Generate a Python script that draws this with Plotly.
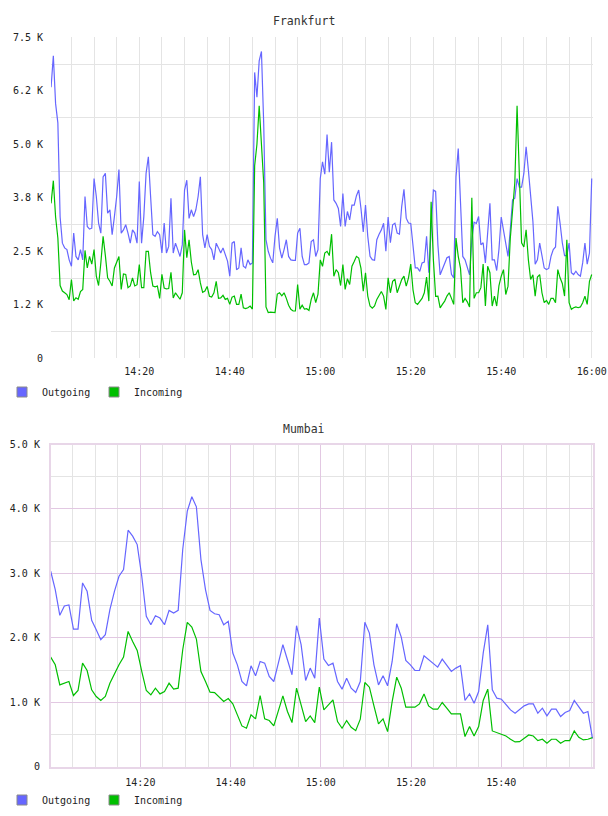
import pandas as pd
import plotly.graph_objects as go

# ---------------- data ----------------
DAY = "2024-01-01 "

# Frankfurt: samples every 30 s from 14:00:30 to 16:00:00
FRA_OUT = [
    6333, 7069, 5950, 5500, 3300, 2690, 2580, 2540, 2300, 2150,
    2925, 2380, 2300, 2540, 2300, 3780, 3080, 3020, 3040, 4200,
    3780, 3160, 2925, 4240, 4320, 3390, 3470, 2890, 3310, 3780,
    4410, 2925, 3000, 3120, 2925, 2690, 3000, 2925, 2690, 4130,
    2690, 3310, 4320, 4710, 3780, 2890, 2850, 2960, 2890, 2460,
    3160, 2460, 2615, 3740, 2460, 2690, 2540, 2380, 2650, 3930,
    4160, 3270, 3470, 3310, 3470, 3780, 4240, 2890, 2580, 2890,
    2615, 2540, 2300, 2690, 2580, 2460, 2580, 2420, 2270, 1920,
    2690, 2730, 2070, 2110, 2580, 2150, 2110, 2300, 2190, 2230,
    6680, 6100, 6950, 7170, 5480, 2770, 2500, 2340, 2230, 2850,
    3270, 2580, 2340, 2540, 2770, 2380, 2300, 2290, 2290, 2925,
    3040, 2380, 2190, 2190, 2230, 2730, 2770, 2380, 2540, 4200,
    4590, 4300, 5230, 4350, 5050, 3700, 3620, 3500, 3080, 3850,
    3080, 3430, 3235, 3580, 3580, 3800, 3930, 3500, 2950, 3580,
    2850, 2383, 2305, 2290, 2770, 2900, 3000, 3157, 2500, 3300,
    2700, 3120, 3157, 2925, 2900, 3545, 3950, 3274, 3160, 3150,
    2650, 2112, 2112, 2030, 2228, 2250, 2848, 2000, 3000, 3932,
    3900, 2650, 1950, 2100, 2228, 2350, 2380, 1960, 1880, 4240,
    4900, 3500, 2380, 2300, 2100, 1950, 2770, 3180, 3150, 3312,
    2654, 2700, 2230, 2900, 3622, 2300, 2300, 2050, 2550, 3300,
    3000, 2615, 2380, 3000, 3700, 3740, 4200, 4000, 4000, 4319,
    4939, 4397, 3855, 3200, 2200, 2300, 2690, 2400, 2110, 2073,
    2100, 2383, 2540, 2600, 3550, 3157, 2700, 2400, 2400, 2693,
    2000, 1957, 2034, 1957, 1918, 2228, 2690, 2200, 2460, 4200,
]
FRA_IN = [
    3620, 4150, 3300, 2810, 1700, 1570, 1530, 1490, 1370, 1840,
    1340, 1415, 1380, 1560, 1610, 2520, 2110, 2380, 2200, 2540,
    1920, 1700, 2230, 2850, 2400, 1880, 1800, 1690, 2110, 2230,
    2380, 1610, 1970, 1960, 1650, 1690, 1880, 1690, 1720, 2190,
    1650, 1650, 2500, 2500, 2000, 1690, 1670, 1690, 1400, 1960,
    1640, 1620, 1630, 2010, 1410, 1530, 1450, 1380, 1530, 3000,
    2350, 2770, 2250, 1950, 1960, 2070, 1760, 1540, 1570, 1680,
    1450, 1430, 1530, 1800, 1400, 1410, 1470, 1376, 1400, 1260,
    1430, 1454, 1260, 1260, 1500, 1180, 1160, 1180, 1220, 1150,
    4500, 5000, 5900, 5000, 4100, 1200, 1070, 1080, 1070, 1066,
    1500, 1531, 1460, 1531, 1400, 1240, 1144, 1105, 1105, 1725,
    1150, 1240, 1150, 1160, 1120, 1376, 1531, 1300, 1500, 2300,
    2150, 2460, 2500, 2400, 2900, 1918, 2073, 2000, 1700, 2189,
    1610, 1860, 1725, 2151, 2260, 2383, 2344, 2100, 1570, 1996,
    1454, 1221, 1170, 1221, 1376, 1470, 1560, 1454, 1144, 1880,
    1531, 1800, 1850, 1531, 1700, 1840, 1920, 1686, 1880, 2200,
    1600, 1298, 1260, 1330, 1400, 1531, 1900, 1337, 3660, 2305,
    1450, 1454, 1180, 1260, 1337, 1454, 1531, 1400, 1260, 2809,
    2383, 2100, 1300, 1400, 1320, 1200, 3750, 1400, 1531, 1531,
    1650, 2200, 1221, 2150, 2000, 1221, 1454, 1221, 1700, 1918,
    2073, 1490, 1686, 2800, 3500, 4100, 5900, 4450, 2700, 2600,
    3003, 2300, 1840, 1950, 1454, 1900, 1957, 1531, 1300, 1350,
    1260, 1400, 1400, 1298, 2073, 1880, 1750, 1454, 2770, 1300,
    1144, 1182, 1200, 1182, 1200, 1300, 1454, 1260, 1800, 1957,
]

# Mumbai: 120 samples across the two hours
MUM_OUT = [
    3033, 2748, 2349, 2494, 2510, 2136, 2136, 2852, 2722, 2271,
    2126, 1970, 2048, 2437, 2722, 2955, 3059, 3670, 3577, 3447,
    2955, 2333, 2203, 2343, 2307, 2203, 2426, 2385, 2426, 3370,
    3966, 4189, 4033, 3214, 2748, 2426, 2374, 2359, 2203, 2255,
    1763, 1581, 1322, 1255, 1566, 1410, 1633, 1607, 1400, 1322,
    1607, 1893, 1659, 1426, 2188, 1893, 1338, 1530, 1374, 2307,
    1670, 1571, 1607, 1322, 1203, 1374, 1219, 1151, 1322, 2240,
    2074, 1581, 1270, 1410, 1255, 1633, 2219, 2012, 1649, 1581,
    1493, 1493, 1721, 1659, 1607, 1545, 1670, 1566, 1478, 1530,
    1566, 1027, 1130, 985, 1167, 1763, 2203, 1193, 1063, 1048,
    959, 882, 830, 892, 944, 975, 975, 830, 908, 788,
    892, 892, 778, 840, 871, 1027, 933, 830, 856, 441,
]
MUM_IN = [
    1701, 1581, 1270, 1296, 1322, 1105, 1182, 1607, 1493, 1193,
    1089, 1027, 1089, 1296, 1452, 1581, 1701, 2100, 1944, 1804,
    1478, 1182, 1115, 1219, 1130, 1167, 1296, 1203, 1219, 1815,
    2240, 2167, 1981, 1478, 1322, 1156, 1151, 1079, 1011, 1058,
    975, 804, 633, 597, 804, 742, 1105, 742, 716, 633,
    882, 1099, 856, 685, 1219, 959, 700, 788, 685, 1234,
    882, 959, 1037, 700, 597, 716, 612, 560, 737, 1307,
    1234, 944, 664, 742, 545, 1011, 1390, 1219, 923, 923,
    923, 975, 1130, 944, 892, 892, 996, 908, 819, 819,
    819, 467, 622, 477, 622, 1027, 1203, 555, 529, 508,
    477, 426, 384, 389, 441, 493, 477, 405, 426, 363,
    426, 426, 363, 405, 405, 555, 457, 415, 426, 451,
]

SERIES = ["Outgoing", "Incoming"]
TITLES = ["Frankfurt", "Mumbai"]

TOP_X_TICKS = ["14:20", "14:40", "15:00", "15:20", "15:40", "16:00"]
BOT_X_TICKS = ["14:20", "14:40", "15:00", "15:20", "15:40"]
TOP_Y_VALS = [0, 1250, 2500, 3750, 5000, 6250, 7500]
TOP_Y_TICKS = ["0", "1.2 K", "2.5 K", "3.8 K", "5.0 K", "6.2 K", "7.5 K"]
BOT_Y_VALS = [0, 1000, 2000, 3000, 4000, 5000]
BOT_Y_TICKS = ["0", "1.0 K", "2.0 K", "3.0 K", "4.0 K", "5.0 K"]

fra_t = pd.date_range(DAY + "14:00:30", periods=len(FRA_OUT), freq="30s")
mum_t = pd.date_range(DAY + "14:00:08", DAY + "16:00:12", periods=len(MUM_OUT))

# ---------------- styling ----------------
BLUE = "#6666ff"
GREEN = "#00bf00"
GRID = "#e4e4e4"
PINK = "#e2c8e2"
FONT = "DejaVu Sans Mono"
TXT = "#222222"
W, H = 608, 816


def px_x(p):
    return p / W


def px_y(p):
    return (H - p) / H


fig = go.Figure()

for name, vals, col in [(SERIES[0], FRA_OUT, BLUE), (SERIES[1], FRA_IN, GREEN)]:
    fig.add_trace(go.Scatter(x=fra_t, y=vals, mode="lines", name=name,
                             line=dict(color=col, width=1.2), showlegend=False,
                             xaxis="x", yaxis="y"))
for name, vals, col in [(SERIES[0], MUM_OUT, BLUE), (SERIES[1], MUM_IN, GREEN)]:
    fig.add_trace(go.Scatter(x=mum_t, y=vals, mode="lines", name=name,
                             line=dict(color=col, width=1.2), showlegend=False,
                             xaxis="x2", yaxis="y2"))

# legend entries (square swatches)
for leg, xa, ya in [("legend", "x", "y"), ("legend2", "x2", "y2")]:
    for name, col in [(SERIES[0], BLUE), (SERIES[1], GREEN)]:
        fig.add_trace(go.Scatter(x=[None], y=[None], mode="markers", name=name,
                                 marker=dict(symbol="square", size=10, color=col,
                                             line=dict(color="#8a8a8a", width=1)),
                                 legend=leg, xaxis=xa, yaxis=ya, showlegend=True))

tickfont = dict(family=FONT, size=10, color=TXT)
legfont = dict(family=FONT, size=10, color=TXT)

fig.update_layout(
    width=W, height=H, autosize=False,
    margin=dict(l=0, r=0, t=0, b=0, pad=0, autoexpand=False),
    paper_bgcolor="white", plot_bgcolor="white",
    xaxis=dict(domain=[px_x(51), px_x(593)],
               range=[DAY + "14:00:29", DAY + "16:00:17"],
               tickmode="array", tickvals=[DAY + s for s in TOP_X_TICKS], ticktext=TOP_X_TICKS,
               showgrid=True, gridcolor=GRID, gridwidth=1,
               minor=dict(tickmode="linear", tick0=DAY + "14:00:00", dtick=300000,
                          showgrid=True, gridcolor=GRID, gridwidth=1),
               ticks="", showline=False, zeroline=False, tickfont=tickfont,
               ticklabelstandoff=6, automargin=False, anchor="y"),
    yaxis=dict(domain=[px_y(358.3), px_y(37.3)], range=[0, 7500],
               tickmode="array", tickvals=TOP_Y_VALS, ticktext=TOP_Y_TICKS,
               showgrid=False,
               minor=dict(tickmode="linear", tick0=625, dtick=1250,
                          showgrid=True, gridcolor=GRID, gridwidth=1),
               ticks="", showline=False, zeroline=False, tickfont=tickfont,
               ticklabelstandoff=7, automargin=False, anchor="x"),
    xaxis2=dict(domain=[px_x(50.7), px_x(593.3)],
                range=[DAY + "14:00:08", DAY + "16:00:23"],
                tickmode="array", tickvals=[DAY + s for s in BOT_X_TICKS], ticktext=BOT_X_TICKS,
                showgrid=True, gridcolor=PINK, gridwidth=1,
                minor=dict(tickmode="linear", tick0=DAY + "14:00:00", dtick=300000,
                           showgrid=True, gridcolor=GRID, gridwidth=1),
                ticks="", showline=True, mirror=True, linecolor="#e8d6e8", linewidth=1.5,
                zeroline=False, tickfont=tickfont, ticklabelstandoff=6,
                automargin=False, anchor="y2"),
    yaxis2=dict(domain=[px_y(766.7), px_y(444.5)], range=[0, 5000],
                tickmode="array", tickvals=BOT_Y_VALS, ticktext=BOT_Y_TICKS,
                showgrid=True, gridcolor=PINK, gridwidth=1,
                minor=dict(tickmode="linear", tick0=500, dtick=1000,
                           showgrid=True, gridcolor=GRID, gridwidth=1),
                ticks="", showline=True, mirror=True, linecolor="#e8d6e8", linewidth=1.5,
                zeroline=False, tickfont=tickfont, ticklabelstandoff=7,
                automargin=False, anchor="x2"),
    legend=dict(orientation="h", x=px_x(2), xanchor="left", y=px_y(392), yanchor="middle",
                font=legfont, bgcolor="rgba(0,0,0,0)", itemwidth=30,
                entrywidth=47, entrywidthmode="pixels"),
    legend2=dict(orientation="h", x=px_x(2), xanchor="left", y=px_y(800), yanchor="middle",
                 font=legfont, bgcolor="rgba(0,0,0,0)", itemwidth=30,
                 entrywidth=47, entrywidthmode="pixels"),
    annotations=[
        dict(text=TITLES[0], x=0.5, y=px_y(20.5), xref="paper", yref="paper",
             showarrow=False, xanchor="center", yanchor="middle",
             font=dict(family=FONT, size=11.5, color="#333333")),
        dict(text=TITLES[1], x=0.5, y=px_y(428.5), xref="paper", yref="paper",
             showarrow=False, xanchor="center", yanchor="middle",
             font=dict(family=FONT, size=11.5, color="#333333")),
    ],
    hovermode=False,
)

fig.write_html("out.html")
